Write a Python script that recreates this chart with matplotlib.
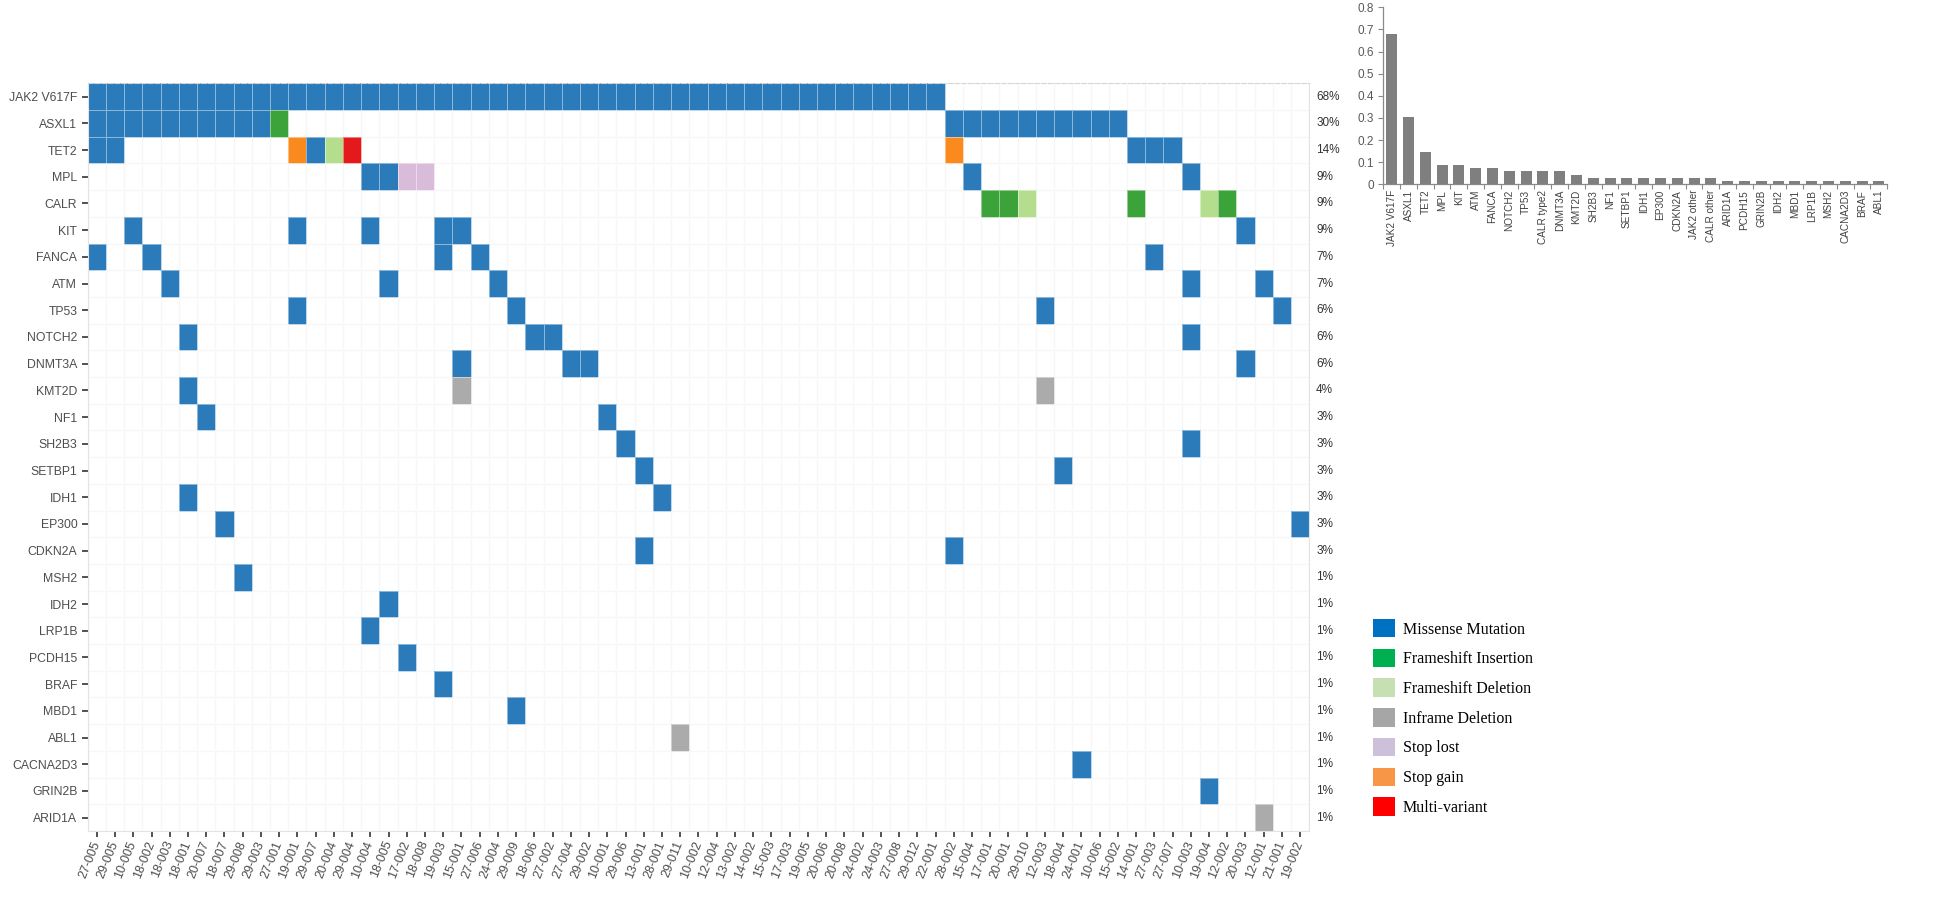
import numpy as np
import matplotlib
matplotlib.use("Agg")
import matplotlib.pyplot as plt
from matplotlib.colors import ListedColormap
from matplotlib.patches import Patch

# sample ids, left to right
samples = [
    "27-005", "29-005", "10-005", "18-002", "18-003", "18-001", "20-007", "18-007",
    "29-008", "29-003", "27-001", "19-001", "29-007", "20-004", "29-004", "10-004",
    "18-005", "17-002", "18-008", "19-003", "15-001", "27-006", "24-004", "29-009",
    "18-006", "27-002", "27-004", "29-002", "10-001", "29-006", "13-001", "28-001",
    "29-011", "10-002", "12-004", "13-002", "14-002", "15-003", "17-003", "19-005",
    "20-006", "20-008", "24-002", "24-003", "27-008", "29-012", "22-001", "28-002",
    "15-004", "17-001", "20-001", "29-010", "12-003", "18-004", "24-001", "10-006",
    "15-002", "14-001", "27-003", "27-007", "10-003", "19-004", "12-002", "20-003",
    "12-001", "21-001", "19-002",
]

genes = [
    "JAK2 V617F", "ASXL1", "TET2", "MPL", "CALR", "KIT", "FANCA", "ATM", "TP53",
    "NOTCH2", "DNMT3A", "KMT2D", "NF1", "SH2B3", "SETBP1", "IDH1", "EP300", "CDKN2A",
    "MSH2", "IDH2", "LRP1B", "PCDH15", "BRAF", "MBD1", "ABL1", "CACNA2D3", "GRIN2B",
    "ARID1A",
]

gene_pct = [
    "68%", "30%", "14%", "9%", "9%", "9%", "7%", "7%", "6%", "6%", "6%", "4%", "3%",
    "3%", "3%", "3%", "3%", "3%", "1%", "1%", "1%", "1%", "1%", "1%", "1%", "1%",
    "1%", "1%",
]

# variant calls per type: gene -> samples
missense = {
    "JAK2 V617F": samples[:47],
    "ASXL1": samples[:10] + samples[47:57],
    "TET2": ["27-005", "29-005", "29-007", "14-001", "27-003", "27-007"],
    "MPL": ["10-004", "18-005", "15-004", "10-003"],
    "KIT": ["10-005", "19-001", "10-004", "19-003", "15-001", "20-003"],
    "FANCA": ["27-005", "18-002", "19-003", "27-006", "27-003"],
    "ATM": ["18-003", "18-005", "24-004", "10-003", "12-001"],
    "TP53": ["19-001", "29-009", "12-003", "21-001"],
    "NOTCH2": ["18-001", "18-006", "27-002", "10-003"],
    "DNMT3A": ["15-001", "27-004", "29-002", "20-003"],
    "KMT2D": ["18-001"],
    "NF1": ["20-007", "10-001"],
    "SH2B3": ["29-006", "10-003"],
    "SETBP1": ["13-001", "18-004"],
    "IDH1": ["18-001", "28-001"],
    "EP300": ["18-007", "19-002"],
    "CDKN2A": ["13-001", "28-002"],
    "MSH2": ["29-008"],
    "IDH2": ["18-005"],
    "LRP1B": ["10-004"],
    "PCDH15": ["17-002"],
    "BRAF": ["19-003"],
    "MBD1": ["29-009"],
    "CACNA2D3": ["24-001"],
    "GRIN2B": ["19-004"],
}
frameshift_ins = {"ASXL1": ["27-001"], "CALR": ["17-001", "20-001", "14-001", "12-002"]}
frameshift_del = {"TET2": ["20-004"], "CALR": ["29-010", "19-004"]}
inframe_del = {"KMT2D": ["15-001", "12-003"], "ABL1": ["29-011"], "ARID1A": ["12-001"]}
stop_lost = {"MPL": ["17-002", "18-008"]}
stop_gain = {"TET2": ["19-001", "28-002"]}
multi_variant = {"TET2": ["29-004"]}

variant_types = ["Missense Mutation", "Frameshift Insertion", "Frameshift Deletion",
                 "Inframe Deletion", "Stop lost", "Stop gain", "Multi-variant"]
tile_colors = ["#2b7bba", "#3ca23a", "#b4de8e", "#ababab", "#d9bcd9", "#fb8a1e", "#e3191c"]
legend_colors = ["#0070c0", "#00b050", "#c6e0b4", "#a6a6a6", "#ccc0da", "#f79646", "#ff0000"]

# right-hand bar chart
bar_genes = [
    "JAK2 V617F", "ASXL1", "TET2", "MPL", "KIT", "ATM", "FANCA", "NOTCH2", "TP53",
    "CALR type2", "DNMT3A", "KMT2D", "SH2B3", "NF1", "SETBP1", "IDH1", "EP300",
    "CDKN2A", "JAK2 other", "CALR other", "ARID1A", "PCDH15", "GRIN2B", "IDH2",
    "MBD1", "LRP1B", "MSH2", "CACNA2D3", "BRAF", "ABL1",
]
bar_freq = [
    0.681, 0.304, 0.145, 0.087, 0.087, 0.072, 0.072, 0.058, 0.058, 0.058, 0.058,
    0.043, 0.029, 0.029, 0.029, 0.029, 0.029, 0.029, 0.029, 0.029, 0.0145, 0.0145,
    0.0145, 0.0145, 0.0145, 0.0145, 0.0145, 0.0145, 0.0145, 0.0145,
]

W, H = 1949, 899
fig = plt.figure(figsize=(W / 100, H / 100), dpi=100)

# ---- oncoprint ----
ax = fig.add_axes([87.7 / W, 1 - 831 / H, 1221.6 / W, 747.7 / H])
n_g, n_s = len(genes), len(samples)
codes = np.zeros((n_g, n_s))
col_of = {s: j for j, s in enumerate(samples)}
for k, calls in enumerate([missense, frameshift_ins, frameshift_del, inframe_del,
                           stop_lost, stop_gain, multi_variant]):
    for g, ss in calls.items():
        for s in ss:
            codes[genes.index(g), col_of[s]] = k + 1

ax.pcolormesh(np.arange(n_s + 1), np.arange(n_g + 1), np.ma.masked_equal(codes, 0),
              cmap=ListedColormap(tile_colors), vmin=0.5, vmax=len(tile_colors) + 0.5,
              edgecolors=(1, 1, 1, 0.45), linewidth=0.7, zorder=2)

ax.set_xlim(0, n_s)
ax.set_ylim(n_g, 0)
ax.set_xticks(np.arange(n_s) + 0.5)
ax.set_xticklabels(samples, rotation=68, ha="right", va="center",
                   rotation_mode="anchor", fontsize=9, color="#4d4d4d",
                   family="Liberation Sans")
ax.set_yticks(np.arange(n_g) + 0.5)
ax.set_yticklabels(genes, fontsize=8.8, color="#4d4d4d", family="Liberation Sans")
ax.set_xticks(np.arange(n_s + 1), minor=True)
ax.set_yticks(np.arange(n_g + 1), minor=True)
ax.grid(which="minor", color="#e9e9e9", linewidth=0.8, zorder=0)
ax.tick_params(which="minor", length=0)
ax.tick_params(which="major", length=4.5, width=1.2, color="#333333", pad=3)
ax.set_axisbelow(True)
for side, sp in ax.spines.items():
    sp.set_color("#e3e3e3")
    sp.set_linewidth(0.8)
ax.spines["top"].set_linestyle((0, (4, 2)))
ax.spines["top"].set_color("#d6d6d6")

for i, p in enumerate(gene_pct):
    ax.text(n_s + 0.37, i + 0.5, p, ha="left", va="center", fontsize=8.5,
            color="#333333", family="Liberation Sans")

# ---- frequency bar chart ----
bx = fig.add_axes([1383.3 / W, 1 - 184.3 / H, 504 / W, 177 / H])
x = np.arange(len(bar_genes))
bx.bar(x, bar_freq, width=0.65, color="#7f7f7f", zorder=2)
bx.set_xlim(-0.5, len(bar_genes) - 0.5)
bx.set_ylim(0, 0.8)
yt = np.round(np.arange(0, 0.81, 0.1), 1)
bx.set_yticks(yt)
bx.set_yticklabels([f"{v:g}" for v in yt], fontsize=8.5, color="#595959",
                   family="Liberation Sans")
bx.set_xticks(x)
bx.set_xticklabels(bar_genes, rotation=90, fontsize=7.2, color="#404040",
                   family="Liberation Sans")
bx.set_xticks(np.arange(len(bar_genes) + 1) - 0.5, minor=True)
bx.tick_params(axis="x", which="major", length=0, pad=4)
bx.tick_params(axis="x", which="minor", length=3.5, width=0.8, color="#898989")
bx.tick_params(axis="y", length=3.5, width=0.8, color="#898989", pad=3)
for side in ["top", "right"]:
    bx.spines[side].set_visible(False)
for side in ["left", "bottom"]:
    bx.spines[side].set_color("#898989")
    bx.spines[side].set_linewidth(0.9)

# ---- legend ----
handles = [Patch(facecolor=c, edgecolor="none", label=t)
           for c, t in zip(legend_colors, variant_types)]
fig.legend(handles=handles, loc="upper left", bbox_to_anchor=(1373 / W, 1 - 619 / H),
           frameon=False, borderpad=0, borderaxespad=0, handlelength=1.4,
           handleheight=1.4, handletextpad=0.45, labelspacing=0.7,
           prop={"family": "Liberation Serif", "size": 11.5})

fig.savefig("out.png", dpi=100)
